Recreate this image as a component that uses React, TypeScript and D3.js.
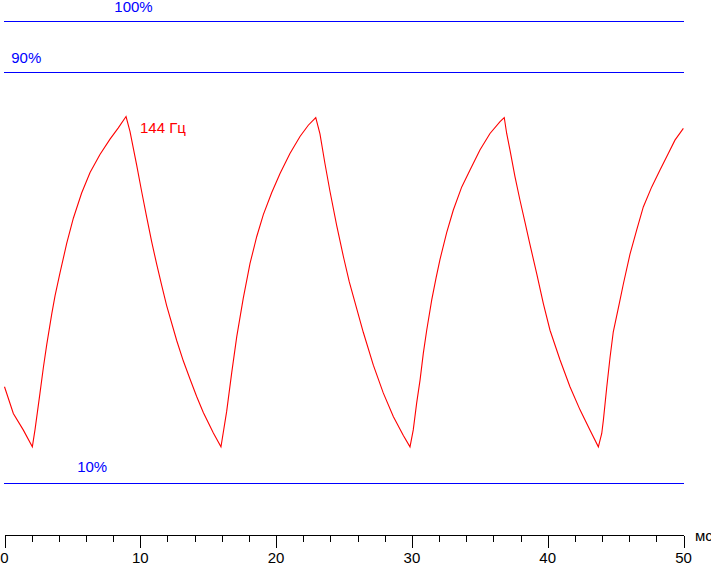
import React from "react";
import * as d3 from "d3";

// Time (ms) of each sample of the trace
const timeMs: number[] = [
  0, 0.65, 1.38, 2.05, 2.25, 2.61, 2.86, 3.11, 3.48, 3.72, 4.09, 4.58, 5.07, 5.68, 6.3, 7.03, 7.77, 8.38, 8.95,
  9.24, 9.73, 10.1, 10.47, 10.84, 11.21, 11.58, 11.94, 12.68, 13.17, 13.66, 14.15, 14.64, 15.38, 15.94,
  16.36, 16.73, 17.1, 17.58, 18.08, 18.57, 19.06, 19.68, 20.29, 21.02, 21.76, 22.37, 22.92,
  23.23, 23.6, 23.97, 24.46, 24.95, 25.39, 26.42, 27.16, 27.89, 28.63, 29.37, 29.86,
  30.1, 30.35, 30.6, 30.84, 31.09, 31.46, 31.78, 32.07, 32.56, 33.05, 33.67, 34.28, 35.01, 35.75, 36.49, 36.8,
  36.98, 37.22, 37.59, 37.96, 38.33, 38.65, 39.19, 39.68, 40.17, 40.91, 41.64, 42.38, 43.11, 43.73,
  43.98, 44.1, 44.34, 44.59, 44.83, 45.27, 45.57, 46.06, 46.55, 47.04, 47.66, 48.27, 48.88, 49.37, 49.99,
];

// Brightness (%) of each sample
const brightness: number[] = [
  28.8, 23.6, 20.4, 17.1, 20.5, 27.5, 32.5, 37.0, 43.0, 46.5, 51.0, 56.7, 61.6, 66.5, 70.5, 74.0, 77.0, 79.2, 81.4,
  78.5, 72.0, 66.8, 61.8, 57.0, 52.6, 48.5, 44.6, 37.8, 33.8, 30.3, 26.9, 23.8, 19.8, 17.1,
  24.0, 31.5, 38.5, 46.0, 52.8, 58.0, 62.3, 66.6, 70.3, 74.2, 77.5, 79.7, 81.2,
  78.0, 72.2, 66.8, 60.2, 54.2, 49.2, 39.4, 33.0, 27.6, 23.0, 19.3, 17.1,
  20.4, 25.6, 30.1, 35.3, 39.8, 45.7, 50.0, 53.6, 58.8, 63.2, 67.7, 71.0, 74.9, 78.1, 80.4, 81.2,
  78.1, 74.9, 69.7, 65.1, 60.8, 57.0, 50.8, 45.0, 39.8, 34.0, 28.8, 24.3, 20.4, 17.1,
  19.7, 22.3, 28.5, 34.5, 39.5, 45.0, 48.8, 54.6, 59.3, 63.8, 67.7, 71.0, 74.2, 76.8, 79.1,
];

const refLevels: number[] = [100, 90, 10];
const refLabels: string[] = ["100%", "90%", "10%"];
const refLabelTimes: number[] = [9.5, 0.5, 5.35];
const refLabelAnchors: string[] = ["middle", "start", "start"];

const majorTicks: number[] = [0, 10, 20, 30, 40, 50];
const minorTicks: number[] = d3.range(0, 51, 2).filter((d) => d % 10 !== 0);
const unitLabel = "мс";
const seriesLabel = "144 Гц";
const seriesLabelTime = 9.98;

const W = 711;
const H = 563;
const FONT = "Arial, 'Liberation Sans', sans-serif";

export default function App() {
  const x = d3.scaleLinear().domain([0, 50]).range([4.5, 683.5]);
  const y = d3.scaleLinear().domain([0, 100]).range([534.7, 20.95]);
  const crisp = (v: number) => Math.round(v) + 0.5;

  const pts: [number, number][] = timeMs.map((t, i) => [t, brightness[i]]);
  const line = d3
    .line<[number, number]>()
    .x((d) => x(d[0]))
    .y((d) => y(d[1]))
    .curve(d3.curveLinear);

  const axisY = crisp(y(0));

  return (
    <svg
      width={W}
      height={H}
      style={{ position: "absolute", left: 0, top: 0, background: "#fff" }}
      fontFamily={FONT}
    >
      <rect x={0} y={0} width={W} height={H} fill="#fff" />
      {refLevels.map((lv, i) => (
        <g key={lv}>
          <line
            x1={x(0) - 0.5}
            x2={x(50)}
            y1={crisp(y(lv))}
            y2={crisp(y(lv))}
            stroke="#0000ff"
            strokeWidth={1}
            shapeRendering="crispEdges"
          />
          <text
            x={x(refLabelTimes[i])}
            y={crisp(y(lv)) - (lv === 10 ? 11.5 : 9.5)}
            fill="#0000ff"
            fontSize={15}
            textAnchor={refLabelAnchors[i] as any}
          >
            {refLabels[i]}
          </text>
        </g>
      ))}

      <path
        d={line(pts) || ""}
        fill="none"
        stroke="#ff0000"
        strokeWidth={1.1}
        strokeLinejoin="miter"
      />
      <text x={x(seriesLabelTime)} y={133.3} fill="#ff0000" fontSize={15}>
        {seriesLabel}
      </text>

      {/* x axis */}
      <line
        x1={x(0)}
        x2={x(50)}
        y1={axisY}
        y2={axisY}
        stroke="#000"
        shapeRendering="crispEdges"
      />
      {minorTicks.map((t) => (
        <line
          key={"m" + t}
          x1={crisp(x(t))}
          x2={crisp(x(t))}
          y1={axisY}
          y2={axisY + 6}
          stroke="#000"
          shapeRendering="crispEdges"
        />
      ))}
      {majorTicks.map((t) => (
        <g key={"M" + t}>
          <line
            x1={crisp(x(t))}
            x2={crisp(x(t))}
            y1={axisY}
            y2={axisY + 12}
            stroke="#000"
            shapeRendering="crispEdges"
          />
          <text x={x(t)} y={562.5} fontSize={15} textAnchor="middle" fill="#000">
            {t}
          </text>
        </g>
      ))}
      <text x={695} y={541} fontSize={15} fill="#000">
        {unitLabel}
      </text>
    </svg>
  );
}
